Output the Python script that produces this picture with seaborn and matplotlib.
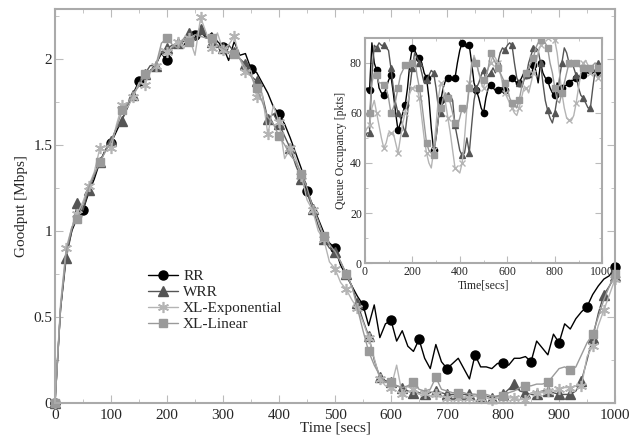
import seaborn as sns
import matplotlib.pyplot as plt
from matplotlib.ticker import MultipleLocator, FormatStrFormatter

# --- Data: goodput (main plot), one sample every 10 s ---
time_main = list(range(0, 1001, 10))

rr_goodput = [
    0.00, 0.55, 0.86, 1.00, 1.08, 1.12, 1.22, 1.30, 1.40, 1.47,
    1.51, 1.58, 1.65, 1.72, 1.80, 1.87, 1.90, 1.93, 1.97, 2.03,
    1.99, 2.07, 2.10, 2.08, 2.12, 2.14, 2.16, 2.12, 2.15, 2.10,
    2.07, 1.99, 2.10, 2.02, 2.03, 1.94, 1.92, 1.86, 1.80, 1.72,
    1.68, 1.62, 1.54, 1.45, 1.36, 1.23, 1.15, 1.07, 0.99, 0.93,
    0.90, 0.80, 0.74, 0.68, 0.62, 0.57, 0.45, 0.57, 0.38, 0.46,
    0.48, 0.36, 0.42, 0.33, 0.30, 0.37, 0.26, 0.20, 0.34, 0.24,
    0.20, 0.23, 0.26, 0.20, 0.14, 0.28, 0.21, 0.21, 0.20, 0.23,
    0.23, 0.22, 0.26, 0.26, 0.27, 0.24, 0.36, 0.32, 0.28, 0.40,
    0.35, 0.46, 0.43, 0.49, 0.53, 0.56, 0.63, 0.68, 0.72, 0.74,
    0.79]

wrr_goodput = [
    0.00, 0.55, 0.84, 1.00, 1.16, 1.12, 1.24, 1.32, 1.40, 1.47,
    1.52, 1.60, 1.64, 1.74, 1.79, 1.86, 1.91, 1.96, 1.96, 2.04,
    2.06, 2.08, 2.09, 2.10, 2.15, 2.11, 2.17, 2.13, 2.10, 2.08,
    2.06, 2.08, 2.04, 2.00, 1.97, 1.90, 1.87, 1.79, 1.65, 1.68,
    1.62, 1.55, 1.48, 1.38, 1.30, 1.22, 1.13, 1.03, 0.95, 0.90,
    0.88, 0.82, 0.75, 0.68, 0.58, 0.48, 0.39, 0.25, 0.15, 0.13,
    0.12, 0.10, 0.09, 0.07, 0.06, 0.06, 0.05, 0.06, 0.07, 0.06,
    0.05, 0.05, 0.05, 0.05, 0.05, 0.05, 0.04, 0.04, 0.03, 0.04,
    0.05, 0.08, 0.11, 0.07, 0.06, 0.05, 0.05, 0.07, 0.07, 0.06,
    0.05, 0.05, 0.05, 0.07, 0.13, 0.25, 0.38, 0.52, 0.63, 0.68,
    0.74]

xlexp_goodput = [
    0.00, 0.58, 0.90, 1.02, 1.10, 1.17, 1.26, 1.34, 1.48, 1.49,
    1.48, 1.62, 1.73, 1.72, 1.78, 1.86, 1.85, 1.92, 1.96, 2.06,
    2.04, 2.07, 2.10, 2.06, 2.12, 2.02, 2.24, 2.15, 2.06, 2.15,
    2.05, 2.08, 2.13, 2.00, 1.92, 1.93, 1.78, 1.80, 1.56, 1.73,
    1.63, 1.42, 1.48, 1.42, 1.32, 1.18, 1.12, 1.00, 0.95, 0.82,
    0.78, 0.70, 0.66, 0.60, 0.55, 0.47, 0.38, 0.26, 0.14, 0.10,
    0.09, 0.22, 0.05, 0.10, 0.08, 0.05, 0.06, 0.04, 0.05, 0.04,
    0.03, 0.04, 0.03, 0.03, 0.03, 0.04, 0.03, 0.03, 0.02, 0.03,
    0.03, 0.03, 0.03, 0.02, 0.02, 0.06, 0.06, 0.06, 0.07, 0.07,
    0.08, 0.09, 0.09, 0.10, 0.10, 0.27, 0.33, 0.45, 0.54, 0.63,
    0.72]

xllin_goodput = [
    0.00, 0.56, 0.88, 1.02, 1.07, 1.15, 1.25, 1.33, 1.40, 1.46,
    1.52, 1.60, 1.70, 1.74, 1.80, 1.84, 1.91, 1.93, 1.96, 2.09,
    2.12, 2.08, 2.06, 2.12, 2.10, 2.14, 2.13, 2.12, 2.12, 2.08,
    2.06, 2.04, 2.03, 2.00, 1.95, 1.90, 1.83, 1.75, 1.66, 1.62,
    1.55, 1.50, 1.44, 1.40, 1.33, 1.25, 1.14, 1.06, 0.97, 0.92,
    0.88, 0.82, 0.75, 0.68, 0.55, 0.42, 0.30, 0.22, 0.16, 0.12,
    0.12, 0.10, 0.09, 0.10, 0.12, 0.08, 0.07, 0.08, 0.15, 0.08,
    0.07, 0.06, 0.06, 0.06, 0.05, 0.05, 0.05, 0.05, 0.04, 0.04,
    0.04, 0.06, 0.07, 0.09, 0.10, 0.10, 0.11, 0.11, 0.12, 0.16,
    0.20, 0.21, 0.19, 0.21, 0.28, 0.35, 0.40, 0.50, 0.60, 0.68,
    0.75]

# --- Data: queue occupancy (inset), one sample every 10 s ---
time_inset = list(range(0, 1001, 10))

rr_queue = [
    68, 70, 69, 88, 80, 77, 70, 68, 67, 70,
    73, 75, 68, 60, 53, 56, 60, 63, 70, 80,
    86, 85, 83, 82, 80, 76, 74, 66, 54, 45,
    50, 58, 65, 70, 73, 74, 75, 73, 74, 80,
    85, 88, 87, 86, 87, 80, 72, 69, 66, 62,
    60, 66, 70, 71, 70, 69, 69, 70, 70, 69,
    72, 73, 74, 73, 72, 72, 74, 76, 75, 78,
    74, 79, 77, 72, 80, 76, 74, 73, 70, 68,
    67, 72, 69, 70, 71, 71, 72, 73, 73, 74,
    74, 75, 75, 76, 76, 77, 76, 77, 76, 77,
    78]

wrr_queue = [
    50, 52, 52, 75, 87, 86, 88, 87, 87, 86,
    85, 78, 70, 64, 60, 58, 55, 52, 60, 70,
    78, 84, 82, 80, 76, 72, 73, 75, 77, 76,
    70, 62, 60, 65, 67, 67, 67, 65, 55, 50,
    45, 43, 44, 50, 44, 55, 65, 70, 72, 75,
    77, 73, 75, 76, 78, 76, 80, 84, 86, 85,
    87, 88, 87, 80, 74, 72, 70, 73, 75, 80,
    83, 86, 86, 85, 80, 72, 65, 61, 58, 56,
    60, 66, 74, 80, 86, 84, 80, 81, 78, 75,
    70, 67, 66, 64, 62, 62, 70, 77, 80, 79,
    78]

xlexp_queue = [
    52, 54, 55, 62, 65, 60, 55, 50, 46, 48,
    52, 52, 52, 48, 44, 50, 56, 60, 64, 68,
    70, 70, 70, 66, 58, 50, 44, 40, 38, 45,
    55, 66, 72, 70, 64, 58, 52, 45, 38, 37,
    36, 40, 50, 62, 72, 78, 83, 80, 76, 72,
    70, 74, 78, 80, 83, 82, 80, 76, 72, 68,
    66, 64, 62, 60, 59, 62, 66, 70, 70, 68,
    72, 76, 80, 84, 87, 89, 90, 90, 90, 90,
    89, 84, 76, 68, 62, 58, 57, 57, 59, 64,
    70, 76, 80, 81, 79, 76, 75, 76, 74, 75,
    76]

xllin_queue = [
    58, 60, 60, 72, 76, 75, 72, 72, 71, 70,
    66, 60, 62, 65, 70, 75, 77, 79, 79, 78,
    80, 82, 75, 70, 64, 56, 48, 45, 44, 43,
    50, 58, 62, 66, 68, 66, 64, 60, 56, 55,
    58, 62, 60, 62, 70, 80, 82, 80, 76, 74,
    73, 75, 78, 84, 82, 80, 78, 76, 74, 72,
    70, 66, 64, 63, 62, 65, 70, 74, 76, 78,
    80, 82, 86, 88, 89, 89, 88, 86, 80, 76,
    70, 65, 64, 68, 72, 76, 80, 80, 79, 80,
    79, 78, 78, 78, 79, 78, 79, 80, 78, 79,
    78]

labels = ['RR', 'WRR', 'XL-Exponential', 'XL-Linear']

# --- Style ---
sns.set_style("ticks")
plt.rcParams['font.family'] = ['Liberation Serif', 'DejaVu Serif']

asterisk = (6, 2, 0)
styles = [
    dict(color='#000000', marker='o', ms=6.5, markevery=5),
    dict(color='#555555', marker='^', ms=7, markevery=2),
    dict(color='#b4b4b4', marker=asterisk, ms=8, markevery=2, mew=1.2),
    dict(color='#9a9a9a', marker='s', ms=6, markevery=4),
]

fig = plt.figure(figsize=(6.3, 4.4), dpi=100)
ax = fig.add_axes([0.0873, 0.084, 0.889, 0.896])

main_series = [rr_goodput, wrr_goodput, xlexp_goodput, xllin_goodput]
for vals, lab, st in zip(main_series, labels, styles):
    sns.lineplot(x=time_main, y=vals, ax=ax, label=lab, lw=1.0,
                 color=st['color'], marker=st['marker'], markersize=st['ms'],
                 markevery=st['markevery'], mec=st['color'], mfc=st['color'],
                 mew=st.get('mew', 1.0), clip_on=False)

ax.set_xlim(0, 1000)
ax.set_ylim(0, 2.29)
ax.xaxis.set_major_locator(MultipleLocator(100))
ax.xaxis.set_minor_locator(MultipleLocator(50))
ax.yaxis.set_major_locator(MultipleLocator(0.5))
ax.yaxis.set_minor_locator(MultipleLocator(0.25))
ax.yaxis.set_major_formatter(FormatStrFormatter('%g'))
ax.set_xlabel('Time [secs]', fontsize=11, labelpad=0)
ax.set_ylabel('Goodput [Mbps]', fontsize=11, labelpad=4)

for sp in ax.spines.values():
    sp.set_color('#aaaaaa')
    sp.set_linewidth(1.5)
ax.tick_params(which='both', direction='in', top=True, right=True,
               color='#bbbbbb', labelsize=11)
ax.tick_params(axis='x', pad=4)
ax.tick_params(axis='y', pad=2)
ax.tick_params(which='major', length=6)
ax.tick_params(which='minor', length=3)

ax.legend(loc='upper left', bbox_to_anchor=(0.155, 0.355), frameon=False,
          fontsize=11, handlelength=2.0, labelspacing=0.15,
          handletextpad=0.3, borderaxespad=0)

# --- Inset: queue occupancy ---
axin = fig.add_axes([0.579, 0.402, 0.377, 0.512])
axin.set_facecolor('white')
inset_series = [rr_queue, wrr_queue, xlexp_queue, xllin_queue]
inset_markers = ['o', '^', 'x', 's']
for vals, st, mk in zip(inset_series, styles, inset_markers):
    sns.lineplot(x=time_inset, y=vals, ax=axin, lw=1.0, color=st['color'],
                 marker=mk, markersize=4.5, markevery=(2, 3),
                 mec=st['color'], mfc=st['color'], mew=1.0, legend=False)

axin.set_xlim(0, 1000)
axin.set_ylim(0, 90)
axin.xaxis.set_major_locator(MultipleLocator(200))
axin.xaxis.set_minor_locator(MultipleLocator(100))
axin.yaxis.set_major_locator(MultipleLocator(20))
axin.yaxis.set_minor_locator(MultipleLocator(10))
axin.set_xlabel('Time[secs]', fontsize=8.5, labelpad=1)
axin.set_ylabel('Queue Occupancy [pkts]', fontsize=8.5, labelpad=2)
for sp in axin.spines.values():
    sp.set_color('#aaaaaa')
    sp.set_linewidth(1.5)
axin.tick_params(which='both', direction='in', top=True, right=True,
                 color='#bbbbbb', labelsize=8.5, pad=2)
axin.tick_params(which='major', length=5)
axin.tick_params(which='minor', length=2.5)

plt.savefig('out.png', dpi=100)
